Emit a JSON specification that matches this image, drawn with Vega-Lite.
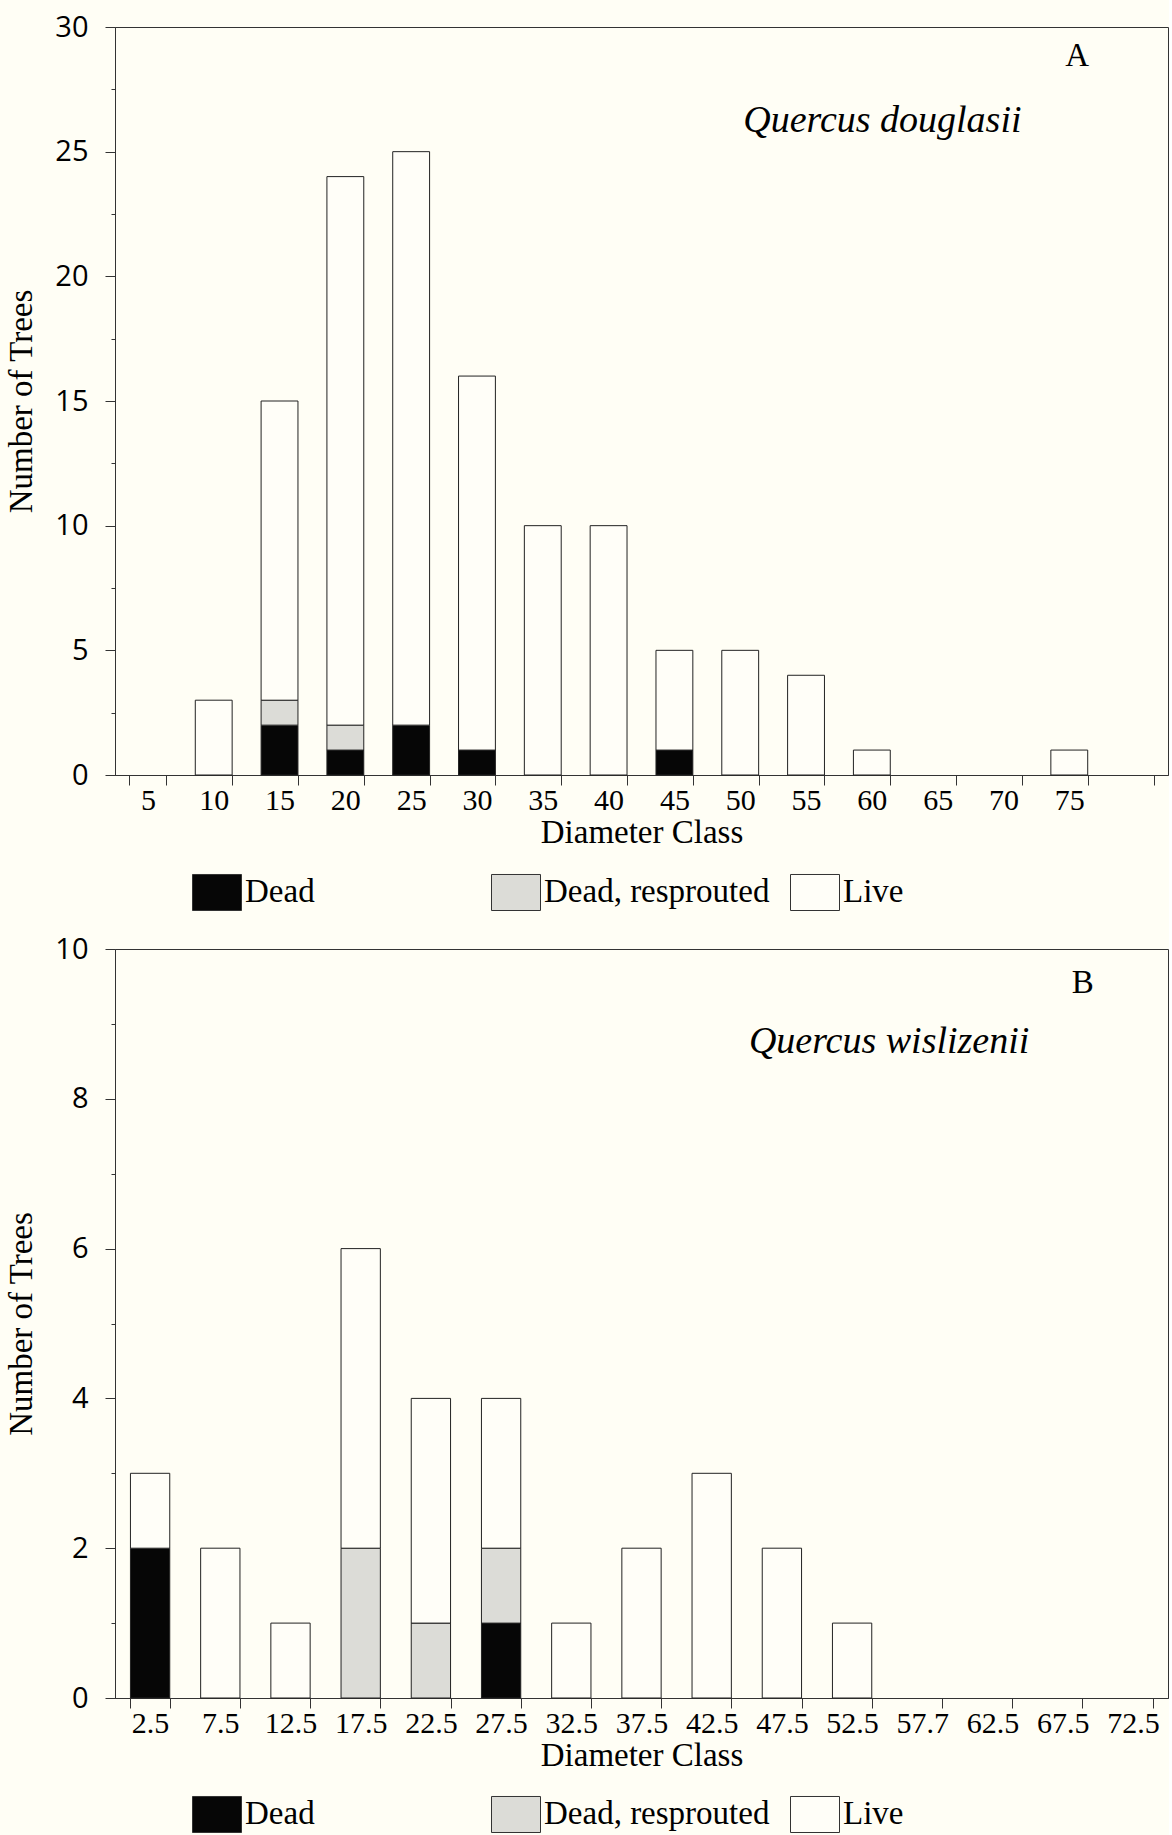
{
  "$schema": "https://vega.github.io/schema/vega-lite/v6.json",
  "background": "#fffef5",
  "padding": {"left": 5, "top": 12, "right": 0, "bottom": 0},
  "spacing": 20,
  "config": {
    "view": {"stroke": "#333", "strokeWidth": 1},
    "axis": {
      "grid": false,
      "domainColor": "#333",
      "tickColor": "#333",
      "labelColor": "#000",
      "titleColor": "#000",
      "titleFont": "Liberation Serif",
      "titleFontSize": 33,
      "titleFontWeight": "normal"
    },
    "axisX": {
      "labelAngle": 0,
      "tickBand": "extent",
      "tickSize": 10,
      "labelPadding": 0,
      "labelFont": "Liberation Serif",
      "labelFontSize": 30,
      "titlePadding": 1
    },
    "axisY": {
      "labelFont": "Open Sans",
      "labelFontSize": 29,
      "labelPadding": 17,
      "titlePadding": 16,
      "format": "d"
    },
    "legend": {
      "orient": "none",
      "legendX": 77,
      "legendY": 840,
      "direction": "horizontal",
      "columns": 3,
      "gridAlign": "all",
      "columnPadding": 18,
      "padding": 0,
      "symbolType": "M-1,-0.735H1V0.735H-1Z",
      "symbolSize": 2401,
      "symbolStrokeColor": "#333",
      "symbolStrokeWidth": 1,
      "symbolOpacity": 1,
      "labelFont": "Liberation Serif",
      "labelFontSize": 33,
      "labelColor": "#000",
      "labelOffset": 3,
      "labelLimit": 400
    }
  },
  "resolve": {"legend": {"fill": "independent"}},
  "datasets": {
    "A": [
      {"cls": "10", "status": "Live", "n": 3},
      {"cls": "15", "status": "Dead", "n": 2},
      {"cls": "15", "status": "Dead, resprouted", "n": 1},
      {"cls": "15", "status": "Live", "n": 12},
      {"cls": "20", "status": "Dead", "n": 1},
      {"cls": "20", "status": "Dead, resprouted", "n": 1},
      {"cls": "20", "status": "Live", "n": 22},
      {"cls": "25", "status": "Dead", "n": 2},
      {"cls": "25", "status": "Live", "n": 23},
      {"cls": "30", "status": "Dead", "n": 1},
      {"cls": "30", "status": "Live", "n": 15},
      {"cls": "35", "status": "Live", "n": 10},
      {"cls": "40", "status": "Live", "n": 10},
      {"cls": "45", "status": "Dead", "n": 1},
      {"cls": "45", "status": "Live", "n": 4},
      {"cls": "50", "status": "Live", "n": 5},
      {"cls": "55", "status": "Live", "n": 4},
      {"cls": "60", "status": "Live", "n": 1},
      {"cls": "75", "status": "Live", "n": 1}
    ],
    "B": [
      {"cls": "2.5", "status": "Dead", "n": 2},
      {"cls": "2.5", "status": "Live", "n": 1},
      {"cls": "7.5", "status": "Live", "n": 2},
      {"cls": "12.5", "status": "Live", "n": 1},
      {"cls": "17.5", "status": "Dead, resprouted", "n": 2},
      {"cls": "17.5", "status": "Live", "n": 4},
      {"cls": "22.5", "status": "Dead, resprouted", "n": 1},
      {"cls": "22.5", "status": "Live", "n": 3},
      {"cls": "27.5", "status": "Dead", "n": 1},
      {"cls": "27.5", "status": "Dead, resprouted", "n": 1},
      {"cls": "27.5", "status": "Live", "n": 2},
      {"cls": "32.5", "status": "Live", "n": 1},
      {"cls": "37.5", "status": "Live", "n": 2},
      {"cls": "42.5", "status": "Live", "n": 3},
      {"cls": "47.5", "status": "Live", "n": 2},
      {"cls": "52.5", "status": "Live", "n": 1}
    ]
  },
  "vconcat": [
    {
      "width": 1053,
      "height": 748,
      "layer": [
        {
          "data": {"name": "A"},
          "mark": {"type": "bar", "stroke": "#222", "strokeWidth": 1},
          "encoding": {
            "x": {
              "field": "cls",
              "type": "ordinal",
              "scale": {
                "domain": ["5", "10", "15", "20", "25", "30", "35", "40", "45", "50", "55", "60", "65", "70", "75", "80"],
                "paddingInner": 0.44,
                "paddingOuter": 0.22
              },
              "axis": {
                "title": "Diameter Class",
                "labelExpr": "datum.label == '80' ? '' : datum.label"
              }
            },
            "y": {
              "field": "n",
              "type": "quantitative",
              "stack": "zero",
              "scale": {"domain": [0, 30], "nice": false},
              "axis": {
                "title": "Number of Trees",
                "values": [0, 2.5, 5, 7.5, 10, 12.5, 15, 17.5, 20, 22.5, 25, 27.5, 30],
                "labelExpr": "datum.value % 5 === 0 ? datum.label : ''",
                "tickSize": {"condition": {"test": "datum.value % 5 === 0", "value": 10}, "value": 4}
              }
            },
            "order": {"field": "status", "sort": "ascending"},
            "fill": {
              "field": "status",
              "type": "nominal",
              "scale": {
                "domain": ["Dead", "Dead, resprouted", "Live"],
                "range": ["#060606", "#dcdcd7", "#fffef8"]
              },
              "legend": {"title": null}
            }
          }
        },
        {
          "data": {"values": [{"t": "Quercus douglasii"}]},
          "mark": {"type": "text", "font": "Liberation Serif", "fontStyle": "italic", "fontSize": 38, "align": "left", "baseline": "alphabetic", "dx": 3, "color": "#000"},
          "encoding": {
            "x": {"datum": "50", "type": "ordinal"},
            "y": {"datum": 25.78, "type": "quantitative"},
            "text": {"field": "t"}
          }
        },
        {
          "data": {"values": [{"t": "A"}]},
          "mark": {"type": "text", "font": "Liberation Serif", "fontSize": 33, "align": "center", "baseline": "alphabetic", "dx": 8, "color": "#000"},
          "encoding": {
            "x": {"datum": "75", "type": "ordinal"},
            "y": {"datum": 28.43, "type": "quantitative"},
            "text": {"field": "t"}
          }
        }
      ]
    },
    {
      "width": 1053,
      "height": 749,
      "layer": [
        {
          "data": {"name": "B"},
          "mark": {"type": "bar", "stroke": "#222", "strokeWidth": 1},
          "encoding": {
            "x": {
              "field": "cls",
              "type": "ordinal",
              "scale": {
                "domain": ["2.5", "7.5", "12.5", "17.5", "22.5", "27.5", "32.5", "37.5", "42.5", "47.5", "52.5", "57.7", "62.5", "67.5", "72.5"],
                "paddingInner": 0.44,
                "paddingOuter": 0.22
              },
              "axis": {"title": "Diameter Class"}
            },
            "y": {
              "field": "n",
              "type": "quantitative",
              "stack": "zero",
              "scale": {"domain": [0, 10], "nice": false},
              "axis": {
                "title": "Number of Trees",
                "values": [0, 1, 2, 3, 4, 5, 6, 7, 8, 9, 10],
                "labelExpr": "datum.value % 2 === 0 ? datum.label : ''",
                "tickSize": {"condition": {"test": "datum.value % 2 === 0", "value": 10}, "value": 4}
              }
            },
            "order": {"field": "status", "sort": "ascending"},
            "fill": {
              "field": "status",
              "type": "nominal",
              "scale": {
                "domain": ["Dead", "Dead, resprouted", "Live"],
                "range": ["#060606", "#dcdcd7", "#fffef8"]
              },
              "legend": {"title": null}
            }
          }
        },
        {
          "data": {"values": [{"t": "Quercus wislizenii"}]},
          "mark": {"type": "text", "font": "Liberation Serif", "fontStyle": "italic", "fontSize": 38, "align": "left", "baseline": "alphabetic", "dx": -33, "color": "#000"},
          "encoding": {
            "x": {"datum": "47.5", "type": "ordinal"},
            "y": {"datum": 8.61, "type": "quantitative"},
            "text": {"field": "t"}
          }
        },
        {
          "data": {"values": [{"t": "B"}]},
          "mark": {"type": "text", "font": "Liberation Serif", "fontSize": 33, "align": "center", "baseline": "alphabetic", "dx": 20, "color": "#000"},
          "encoding": {
            "x": {"datum": "67.5", "type": "ordinal"},
            "y": {"datum": 9.41, "type": "quantitative"},
            "text": {"field": "t"}
          }
        }
      ]
    }
  ]
}
